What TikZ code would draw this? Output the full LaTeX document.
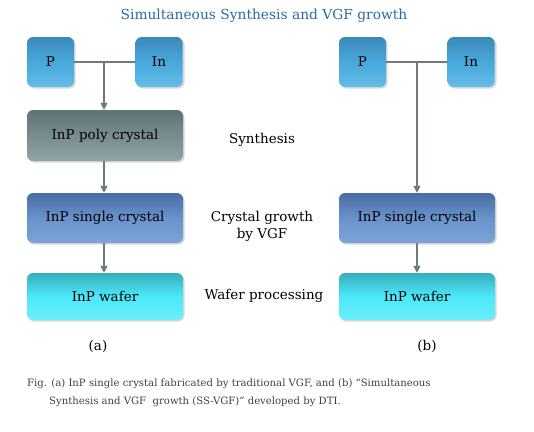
\documentclass[tikz,border=0pt]{standalone}
\usepackage{fontspec}
\setmainfont{DejaVu Serif}
\usetikzlibrary{arrows.meta}
\definecolor{titleblue}{HTML}{2A6AA8}
\definecolor{linegray}{HTML}{6B7B7E}
\definecolor{HTML3A8AB8}{HTML}{3A8AB8}
\definecolor{HTML62BCE6}{HTML}{62BCE6}
\definecolor{HTML48A8DC}{HTML}{48A8DC}
\definecolor{HTML5F7275}{HTML}{5F7275}
\definecolor{HTML91A5A7}{HTML}{91A5A7}
\definecolor{HTML4A6CA2}{HTML}{4A6CA2}
\definecolor{HTML7CA4DA}{HTML}{7CA4DA}
\definecolor{HTML6A92CC}{HTML}{6A92CC}
\definecolor{HTML38AEBA}{HTML}{38AEBA}
\definecolor{HTML6CEEFC}{HTML}{6CEEFC}
\definecolor{HTML4CE8FA}{HTML}{4CE8FA}
\tikzset{
  base/.style={rounded corners=6pt, minimum height=50pt, inner sep=0pt, font=\fontsize{13.5}{15}\selectfont, text=black},
  elem/.style={base, minimum width=47pt, top color=HTML3A8AB8, bottom color=HTML62BCE6, middle color=HTML48A8DC},
  poly/.style={base, minimum width=156pt, top color=HTML5F7275, bottom color=HTML91A5A7},
  single/.style={base, minimum width=156pt, top color=HTML4A6CA2, bottom color=HTML7CA4DA, middle color=HTML6A92CC},
  wafer/.style={base, minimum width=156pt, minimum height=47pt, top color=HTML38AEBA, bottom color=HTML6CEEFC, middle color=HTML4CE8FA},
  shad/.style={fill=black!15, rounded corners=6pt},
  conn/.style={draw=linegray, line width=1.2pt},
  arr/.style={conn, -{Triangle[length=7pt,width=7pt]}},
  lab/.style={font=\fontsize{13.5}{17}\selectfont, align=center}
}
\begin{document}
\begin{tikzpicture}[x=1pt,y=-1pt]
\useasboundingbox (0,0) rectangle (534,431);
\node[font=\fontsize{13.8}{15}\selectfont, text=titleblue] (title) at (264,16) {Simultaneous Synthesis and VGF growth};
% shadows
\foreach \x/\y/\w/\h in {27/37/47/50, 135/37/48/50, 339/37/47/50, 447/37/48/50, 27/110/156/51, 27/193/156/50, 27/273/156/47, 339/193/156/50, 339/273/156/47}{
  \fill[shad] (\x+1.5,\y+1.5) rectangle ++(\w,\h);
}
% left column
\node[elem] (Pa) at (50.5,62) {P};
\node[elem] (Ina) at (159,62) {In};
\node[poly, minimum height=51pt] (polya) at (105,135.5) {InP poly crystal};
\node[single] (singa) at (105,218) {InP single crystal};
\node[wafer] (wafa) at (105,296.5) {InP wafer};
\coordinate (ja) at (104,62);
\draw[conn] (Pa.east) -- (Ina.west);
\draw[arr] (ja) -- (ja |- polya.north);
\draw[arr] (polya.south -| ja) -- (ja |- singa.north);
\draw[arr] (singa.south -| ja) -- (ja |- wafa.north);
% right column
\node[elem] (Pb) at (362.5,62) {P};
\node[elem] (Inb) at (471,62) {In};
\node[single] (singb) at (417,218) {InP single crystal};
\node[wafer] (wafb) at (417,296.5) {InP wafer};
\coordinate (jb) at (417,62);
\draw[conn] (Pb.east) -- (Inb.west);
\draw[arr] (jb) -- (jb |- singb.north);
\draw[arr] (singb.south -| jb) -- (jb |- wafb.north);
% middle labels
\node[lab] (l1) at (262,140) {Synthesis};
\node[lab] (l2) at (262,226) {Crystal growth\\by VGF};
\node[lab] (l3) at (264,296) {Wafer processing};
\node[lab] (ca) at (98,346) {(a)};
\node[lab] (cb) at (427,346) {(b)};
% caption
\node[anchor=north west, align=left, font=\fontsize{10.1}{18}\selectfont, text=black!75, inner sep=0pt] (cap) at (27,379) {Fig. (a) InP single crystal fabricated by traditional VGF, and (b) “Simultaneous\\\hspace*{22pt}Synthesis and VGF\ \ growth (SS-VGF)” developed by DTI.};
\end{tikzpicture}
\end{document}
